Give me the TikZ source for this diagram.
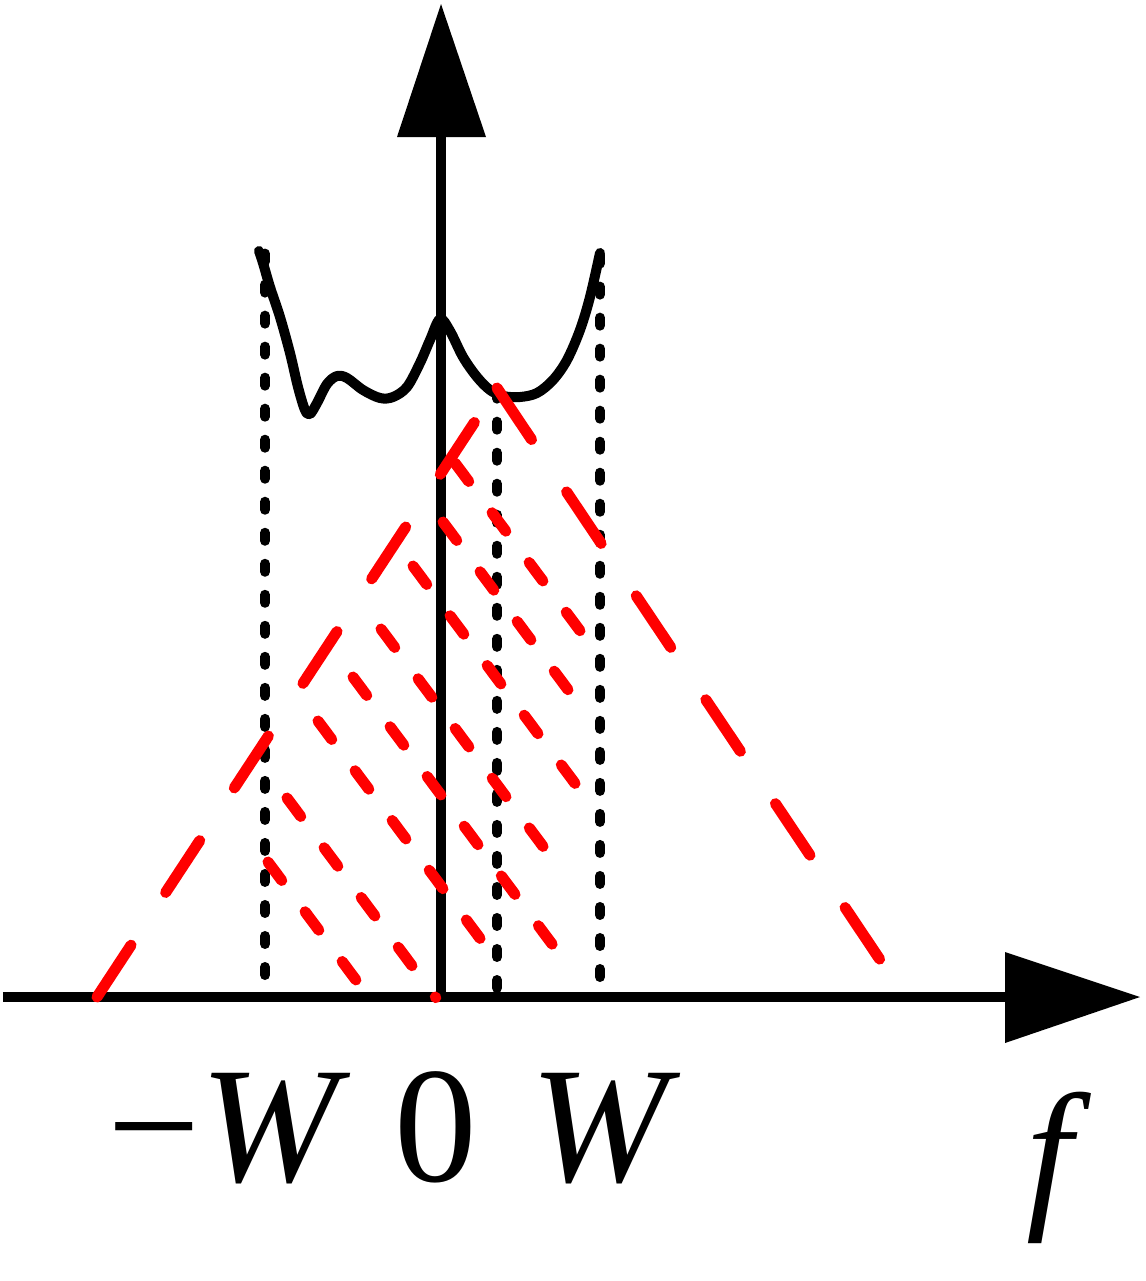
\documentclass[tikz,border=0pt]{standalone}
\usepackage{fontspec}
\setmainfont{Liberation Serif}
\newfontfamily\tms{Liberation Serif}
\definecolor{myred}{RGB}{255,0,0}
\begin{document}
\begin{tikzpicture}[x=0.01cm,y=-0.01cm,
  blk/.style={line width=0.1cm, line cap=round, line join=round},
  axisline/.style={line width=0.1cm},
  dotv/.style={line width=0.1cm, line cap=round, dash pattern=on 0.08cm off 0.23cm},
  bigred/.style={draw=myred, line width=0.11cm, line cap=round, dash pattern=on 0.62cm off 0.63cm},
  hatch/.style={draw=myred, line width=0.11cm, line cap=round, dash pattern=on 0.23cm off 0.39cm},
  lbl/.style={inner sep=0pt, anchor=base, font=\tms\fontsize{47pt}{50pt}\selectfont}]
\useasboundingbox (0,0) rectangle (1146,1281);

% named coordinates
\coordinate (O) at (441,997);
\coordinate (xL) at (3,997);
\coordinate (xB) at (1010,997);
\coordinate (xT) at (1140,997);
\coordinate (yB) at (441,132);
\coordinate (yT) at (441,4);

% dotted vertical lines
\draw[dotv] (265,975) -- (265,252);
\draw[dotv] (497,988) -- (497,393);
\draw[dotv] (600,977) -- (600,252);

% black spectrum curve
\draw[blk] plot[smooth, tension=0.55] coordinates {
 (259,251) (263,263) (270,287) (280,317) (290,353) (298,387) (305,410) (310,414)
 (317,403) (327,384) (337,376) (347,378) (363,390) (380,398) (393,397) (407,387)
 (420,363) (430,340) (440,319) (450,331) (463,357) (477,377) (490,390) (503,396)
 (520,397) (537,393) (553,380) (567,360) (580,330) (590,297) (600,253)};

% axes
\draw[axisline] (xL) -- (xB);
\fill (1005,952) -- (xT) -- (1005,1043) -- cycle;
\draw[axisline] (O) -- (yB);
\fill (397,137) -- (yT) -- (486,137) -- cycle;

% big red triangle
\coordinate (apex) at (497,388);
\draw[bigred] (97,997) -- (apex);
\draw[bigred] (apex) -- (905,997);

% hatch lines
\draw[hatch] (455,463) -- ++(53.3:210);
\draw[hatch] (443,522) -- ++(53.3:210);
\draw[hatch] (413,566) -- ++(53.3:272);
\draw[hatch] (381,629) -- ++(53.3:272);
\draw[hatch] (353,677) -- ++(53.3:334);
\draw[hatch] (318,721) -- ++(53.3:272);
\draw[hatch] (287,798) -- ++(53.3:249);
\draw[hatch] (268,862) -- ++(53.3:168);

% labels
\node[lbl] (lmW) at (229,1181) {−\textit{W}};
\node[lbl] (l0) at (436,1181) {0};
\node[lbl] (lW) at (606,1181) {\textit{W}};
\node[lbl] (lf) at (1059,1208) {\textit{f}};
\end{tikzpicture}
\end{document}
